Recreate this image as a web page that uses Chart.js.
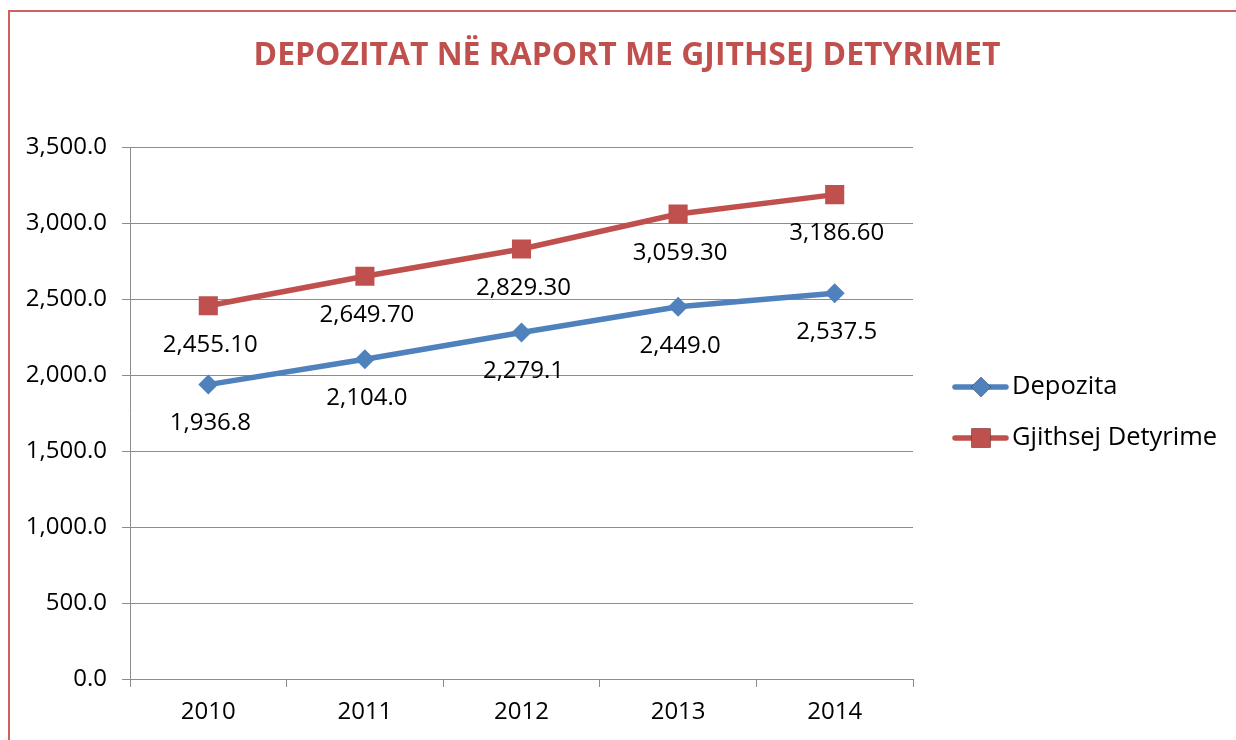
<!DOCTYPE html>
<html lang="sq">
<head>
    <meta charset="UTF-8">
    <title>Depozitat në raport me gjithsej detyrimet</title>
    <script src="https://cdn.jsdelivr.net/npm/chart.js"></script>
    <style>
        body { margin: 0; background: #fff; }
        #wrap { position: relative; width: 1236px; height: 740px; }
    </style>
</head>
<body>
    <div id="wrap"><canvas id="depChart"></canvas></div>
    <script>
        const chartTitle = 'DEPOZITAT NË RAPORT ME GJITHSEJ DETYRIMET';
        const years = ['2010', '2011', '2012', '2013', '2014'];
        const seriesNames = ['Depozita', 'Gjithsej Detyrime'];
        const depozita = [1936.8, 2104.0, 2279.1, 2449.0, 2537.5];
        const detyrime = [2455.10, 2649.70, 2829.30, 3059.30, 3186.60];
        const yTicks = [0, 500, 1000, 1500, 2000, 2500, 3000, 3500];

        const FONT = '"Open Sans", "DejaVu Sans", sans-serif';
        const gridGrey = '#8c8c8c';

        function fmt(v, dec) {
            return v.toLocaleString('en-US', { minimumFractionDigits: dec, maximumFractionDigits: dec });
        }

        // frame, title, data labels and legend
        const decor = {
            id: 'decor',
            beforeDraw(chart) {
                const ctx = chart.ctx;
                ctx.save();
                ctx.strokeStyle = '#d0605e';
                ctx.lineWidth = 2;
                ctx.beginPath();
                ctx.moveTo(9, chart.height);
                ctx.lineTo(9, 11);
                ctx.lineTo(chart.width, 11);
                ctx.stroke();
                ctx.restore();
            },
            afterDraw(chart) {
                const ctx = chart.ctx;
                ctx.save();

                // title, scaled to the reference width
                ctx.textAlign = 'center';
                ctx.textBaseline = 'middle';
                ctx.fillStyle = '#c0504d';
                ctx.font = 'bold 100px ' + FONT;
                const tw = ctx.measureText(chartTitle).width;
                ctx.font = 'bold ' + (100 * 747 / tw).toFixed(1) + 'px ' + FONT;
                ctx.fillText(chartTitle, 627, 56);

                // data labels below points
                ctx.font = '24px ' + FONT;
                ctx.fillStyle = '#000';
                chart.data.datasets.forEach((ds, i) => {
                    chart.getDatasetMeta(i).data.forEach((pt, j) => {
                        ctx.fillText(fmt(ds.data[j], ds.labelDecimals), pt.x + 2, pt.y + 39);
                    });
                });

                // legend
                ctx.font = '25.5px ' + FONT;
                chart.data.datasets.forEach((ds, i) => {
                    const y = 387 + i * 51;
                    ctx.strokeStyle = ds.borderColor;
                    ctx.lineWidth = 5.5;
                    ctx.lineCap = 'round';
                    ctx.beginPath();
                    ctx.moveTo(955, y);
                    ctx.lineTo(1006, y);
                    ctx.stroke();
                    Chart.helpers.drawPoint(ctx, {
                        pointStyle: ds.pointStyle,
                        radius: ds.pointRadius,
                        rotation: 0,
                        borderWidth: 0
                    }, 981, y);
                    ctx.fillStyle = ds.backgroundColor;
                    ctx.fill();
                    ctx.fillStyle = '#000';
                    ctx.textAlign = 'left';
                    ctx.fillText(ds.label, 1012, y);
                });
                ctx.restore();
            }
        };

        new Chart(document.getElementById('depChart'), {
            type: 'line',
            data: {
                labels: years,
                datasets: [{
                    label: seriesNames[0],
                    data: depozita,
                    labelDecimals: 1,
                    borderColor: '#4f81bd',
                    backgroundColor: '#4f81bd',
                    borderWidth: 5.5,
                    pointStyle: 'rectRot',
                    pointRadius: 10,
                    pointBorderWidth: 0,
                    tension: 0
                }, {
                    label: seriesNames[1],
                    data: detyrime,
                    labelDecimals: 2,
                    borderColor: '#c0504d',
                    backgroundColor: '#c0504d',
                    borderWidth: 5.5,
                    pointStyle: 'rect',
                    pointRadius: 13.5,
                    pointBorderWidth: 0,
                    tension: 0
                }]
            },
            options: {
                responsive: true,
                maintainAspectRatio: false,
                animation: false,
                layout: { padding: { top: 147, right: 323, left: 0, bottom: 0 } },
                plugins: {
                    legend: { display: false },
                    title: { display: false },
                    tooltip: { enabled: false }
                },
                scales: {
                    x: {
                        offset: true,
                        grid: {
                            offset: true,
                            drawOnChartArea: false,
                            tickLength: 8,
                            color: gridGrey
                        },
                        border: { color: gridGrey, width: 1 },
                        ticks: {
                            color: '#000',
                            padding: 11,
                            font: { family: FONT, size: 24 }
                        },
                        afterFit(axis) { axis.height = 61; }
                    },
                    y: {
                        min: 0,
                        max: 3500,
                        afterBuildTicks(axis) { axis.ticks = yTicks.map(v => ({ value: v })); },
                        grid: { color: gridGrey, tickLength: 8 },
                        border: { color: gridGrey, width: 1 },
                        ticks: {
                            color: '#000',
                            padding: 15,
                            font: { family: FONT, size: 24 },
                            callback: v => fmt(v, 1)
                        },
                        afterFit(axis) { axis.width = 130; }
                    }
                }
            },
            plugins: [decor]
        });
    </script>
</body>
</html>
